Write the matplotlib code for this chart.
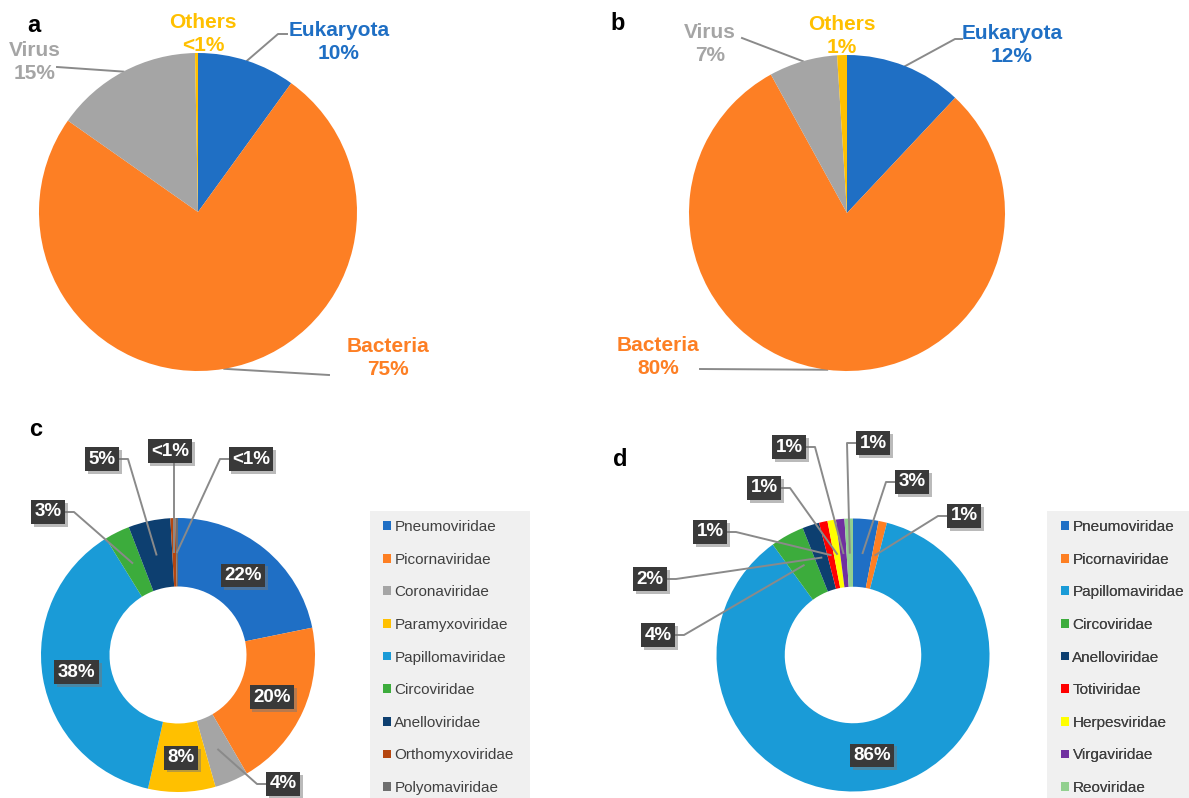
import numpy as np
import matplotlib
matplotlib.use('Agg')
import matplotlib.pyplot as plt
import matplotlib.patheffects as pe
from matplotlib.patches import Patch, Rectangle

plt.rcParams['font.family'] = ['Liberation Sans', 'DejaVu Sans']

W, H = 1189, 798

# panels a and b: share of reads per domain
domains = ['Eukaryota', 'Bacteria', 'Virus', 'Others']
share_a = [10, 75, 15, 0.3]
share_b = [12, 80, 7, 1]
text_a = ['10%', '75%', '15%', '<1%']
text_b = ['12%', '80%', '7%', '1%']
domain_colors = ['#1f6fc4', '#fd7f24', '#a5a5a5', '#ffc000']

# panel c: virus families
families_c = ['Pneumoviridae', 'Picornaviridae', 'Coronaviridae', 'Paramyxoviridae',
              'Papillomaviridae', 'Circoviridae', 'Anelloviridae', 'Orthomyxoviridae',
              'Polyomaviridae']
share_c = [22, 20, 4, 8, 38, 3, 5, 0.6, 0.3]
text_c = ['22%', '20%', '4%', '8%', '38%', '3%', '5%', '<1%', '<1%']
colors_c = ['#1f6fc5', '#fd7f23', '#a5a5a5', '#ffc000', '#1a9bd7', '#3cac3c',
            '#0d3f70', '#b5460f', '#6e6e6e']

# panel d: virus families
families_d = ['Pneumoviridae', 'Picornaviridae', 'Papillomaviridae', 'Circoviridae',
              'Anelloviridae', 'Totiviridae', 'Herpesviridae', 'Virgaviridae', 'Reoviridae']
share_d = [3, 1, 86, 4, 2, 1, 1, 1, 1]
text_d = ['3%', '1%', '86%', '4%', '2%', '1%', '1%', '1%', '1%']
colors_d = ['#1f6fc5', '#fd7f23', '#1a9bd7', '#3cac3c', '#0d3f70', '#ff0000',
            '#ffff00', '#7030a0', '#92d08f']

fig = plt.figure(figsize=(W / 100, H / 100), dpi=100)
ax = fig.add_axes([0, 0, 1, 1])
LINE = '#8a8a8a'


def mid_point(w, cx, cy, f):
    t = np.deg2rad((w.theta1 + w.theta2) / 2)
    return cx + f * w.r * np.cos(t), cy + f * w.r * np.sin(t)


# ---- a and b: plain pies ----
def domain_pie(shares, texts, cx, cy, r, txt_pos, elbows):
    wedges, _ = ax.pie(shares, colors=domain_colors, center=(cx, cy), radius=r,
                       startangle=-90, counterclock=True,
                       wedgeprops=dict(linewidth=0))
    for i, w in enumerate(wedges):
        tx, ty = txt_pos[i]
        ax.text(tx, ty, f'{domains[i]}\n{texts[i]}', color=domain_colors[i],
                fontsize=15, fontweight='bold', ha='center', va='center',
                linespacing=1.3)
        if elbows[i] is not None:
            px, py = mid_point(w, cx, cy, 1.0)
            xs = [px] + [p[0] for p in elbows[i]]
            ys = [py] + [p[1] for p in elbows[i]]
            ax.plot(xs, ys, color=LINE, lw=1.4, zorder=0.5)


domain_pie(share_a, text_a, 198, 212, 159,
           [(339, 42), (388, 358), (35, 62), (203, 34)],
           [[(278, 34), (287, 34)], [(329, 375)], [(57, 67)], None])
domain_pie(share_b, text_b, 847, 213, 158,
           [(1012, 45), (658, 357), (710, 44), (842, 36)],
           [[(955, 39), (962, 39)], [(700, 369)], [(742, 38)], None])


# ---- c and d: donuts with boxed labels ----
def boxed(x, y, s):
    t = ax.text(x, y, s, color='white', fontsize=13.5, fontweight='bold',
                ha='center', va='center', zorder=5,
                bbox=dict(boxstyle='square,pad=0.18', facecolor='#393939',
                          edgecolor='none'))
    t.get_bbox_patch().set_path_effects(
        [pe.withSimplePatchShadow(offset=(2, -2), shadow_rgbFace='#777777', alpha=0.5)])
    return t


def donut(shares, colors, texts, cx, cy, r, outside):
    wedges, _ = ax.pie(shares, colors=colors, center=(cx, cy), radius=r,
                       startangle=-90, counterclock=True,
                       wedgeprops=dict(width=0.5 * r, linewidth=0))
    for i, w in enumerate(wedges):
        px, py = mid_point(w, cx, cy, 0.75)
        if i not in outside:
            boxed(px, py, texts[i])
            continue
        bx, by = outside[i]
        boxed(bx, by, texts[i])
        hw = 17 if len(texts[i]) < 3 else 22
        if abs(px - bx) < hw:
            xs, ys = [px, px], [by + 12, py]
        else:
            side = 1 if px > bx else -1
            sx = bx + side * hw
            xs, ys = [sx, sx + side * 9, px], [by, by, py]
        ax.plot(xs, ys, color=LINE, lw=1.4, zorder=4)
    return wedges


wc = donut(share_c, colors_c, text_c, 178, 655, 137,
           {2: (283, 784), 5: (48, 512), 6: (102, 459), 7: (170, 451), 8: (251, 459)})
wd = donut(share_d, colors_d, text_d, 853, 655, 136.5,
           {0: (912, 482), 1: (964, 516), 3: (658, 635), 4: (650, 579),
            5: (710, 532), 6: (764, 488), 7: (789, 447), 8: (873, 443)})

# legends
for (x0, fams, cols, mx) in [(370, families_c, colors_c, 383), (1047, families_d, colors_d, 1061)]:
    ax.add_patch(Rectangle((x0, 511), 160, 300, facecolor='#f0f0f0',
                           edgecolor='none', zorder=0.2))
    handles = [Patch(facecolor=c, edgecolor='none') for c in cols]
    leg = ax.legend(handles, fams, loc='upper left', bbox_to_anchor=(mx, 520),
                    bbox_transform=ax.transData, frameon=False, fontsize=11,
                    handlelength=0.5, handleheight=0.5, handletextpad=0.25,
                    labelspacing=1.22, borderpad=0, borderaxespad=0,
                    labelcolor='#404040')
    ax.add_artist(leg)

# panel letters
for s, x, y in [('a', 34, 26), ('b', 618, 24), ('c', 36, 430), ('d', 620, 460)]:
    ax.text(x, y, s, fontsize=17, fontweight='bold', ha='center', va='center')

ax.set_xlim(0, W)
ax.set_ylim(H, 0)
ax.set_aspect('auto')
ax.axis('off')

fig.savefig('out.png', dpi=100)
